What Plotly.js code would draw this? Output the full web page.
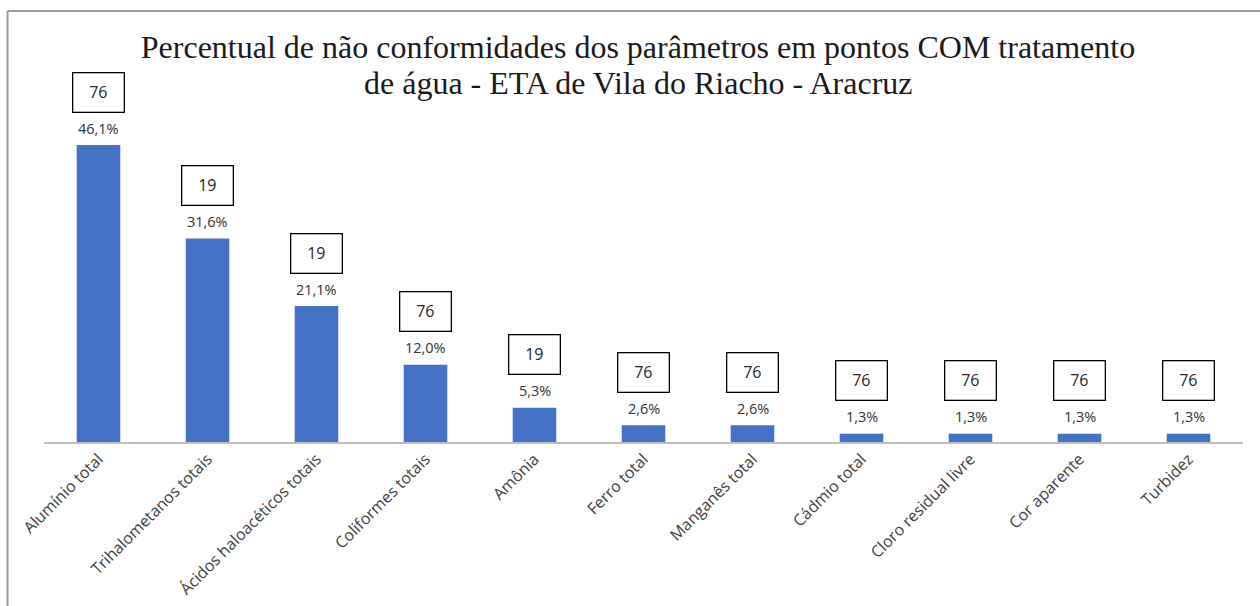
<!DOCTYPE html>
<html><head><meta charset="utf-8">
<script src="https://cdn.plot.ly/plotly-3.0.1.min.js"></script>
<style>html,body{margin:0;padding:0;background:#fff;}#chart{width:1260px;height:606px;}</style>
</head><body><div id="chart"></div>
<script>
var categories = ["Alumínio total","Trihalometanos totais","Ácidos haloacéticos totais","Coliformes totais","Amônia","Ferro total","Manganês total","Cádmio total","Cloro residual livre","Cor aparente","Turbidez"];
var percentValues = [46.1, 31.6, 21.1, 12.0, 5.3, 2.6, 2.6, 1.3, 1.3, 1.3, 1.3];
var percentLabels = ["46,1%","31,6%","21,1%","12,0%","5,3%","2,6%","2,6%","1,3%","1,3%","1,3%","1,3%"];
var sampleCounts = ["76","19","19","76","19","76","76","76","76","76","76"];
var titleLines = ["Percentual de não conformidades dos parâmetros em pontos COM tratamento", "de água - ETA de Vila do Riacho - Aracruz"];

var W = 1260, H = 606;
var margin = {l: 43.5, r: 16.5, t: 11, b: 164};
var plotW = W - margin.l - margin.r, plotH = H - margin.t - margin.b;
var titleFont = {family:'"Liberation Serif", "Times New Roman", serif', size:32, color:'#1a1a1a'};
var labelFamily = '"Open Sans", Lato, sans-serif';

var annotations = [];
categories.forEach(function(c, i){
  annotations.push({x: c, y: percentValues[i], xref:'x', yref:'y', text: percentLabels[i], showarrow:false,
    yanchor:'middle', yshift:17, font:{family:labelFamily, size:14.5, color:'#333333'}});
  annotations.push({x: c, y: percentValues[i], xref:'x', yref:'y', text: sampleCounts[i], showarrow:false,
    yanchor:'middle', yshift:53, width:46, height:34, borderpad:2, bordercolor:'#000', borderwidth:1.3, bgcolor:'#fff',
    font:{family:labelFamily, size:16, color:'#262626'}});
});
annotations.push({xref:'paper', yref:'paper', x:(638 - margin.l)/plotW, y:1 - (83 - margin.t)/plotH,
  xanchor:'center', yanchor:'middle', showarrow:false, text:titleLines[1], font:titleFont});

var trace = {type:'bar', x: categories, y: percentValues, marker:{color:'#4472C4'}, width:0.4, hoverinfo:'none'};

var layout = {
  width: W, height: H, margin: margin, paper_bgcolor:'#fff', plot_bgcolor:'#fff', showlegend:false,
  title: {text: titleLines[0], x: 638/W, xref:'container', xanchor:'center', y: 1 - 47/H, yref:'container', yanchor:'middle',
    font: titleFont},
  xaxis: {type:'category', tickangle:-45, showgrid:false, zeroline:false, showline:true, linecolor:'#bfbfbf', linewidth:1.5,
    ticks:'', ticklen:0, tickfont:{family:labelFamily, size:16, color:'#404040'}, automargin:false},
  yaxis: {range:[0, plotH/6.44], visible:false, showgrid:false, zeroline:false, fixedrange:true},
  annotations: annotations,
  shapes: [
    {type:'line', xref:'paper', yref:'paper', x0:(7-margin.l)/plotW, x1:(W+5-margin.l)/plotW, y0:1, y1:1, line:{color:'#9a9a9a', width:2}},
    {type:'line', xref:'paper', yref:'paper', x0:(7-margin.l)/plotW, x1:(7-margin.l)/plotW, y0:1, y1:-(margin.b+5)/plotH, line:{color:'#9a9a9a', width:2}}
  ]
};
Plotly.newPlot('chart', [trace], layout, {displayModeBar:false, staticPlot:true});
</script></body></html>
